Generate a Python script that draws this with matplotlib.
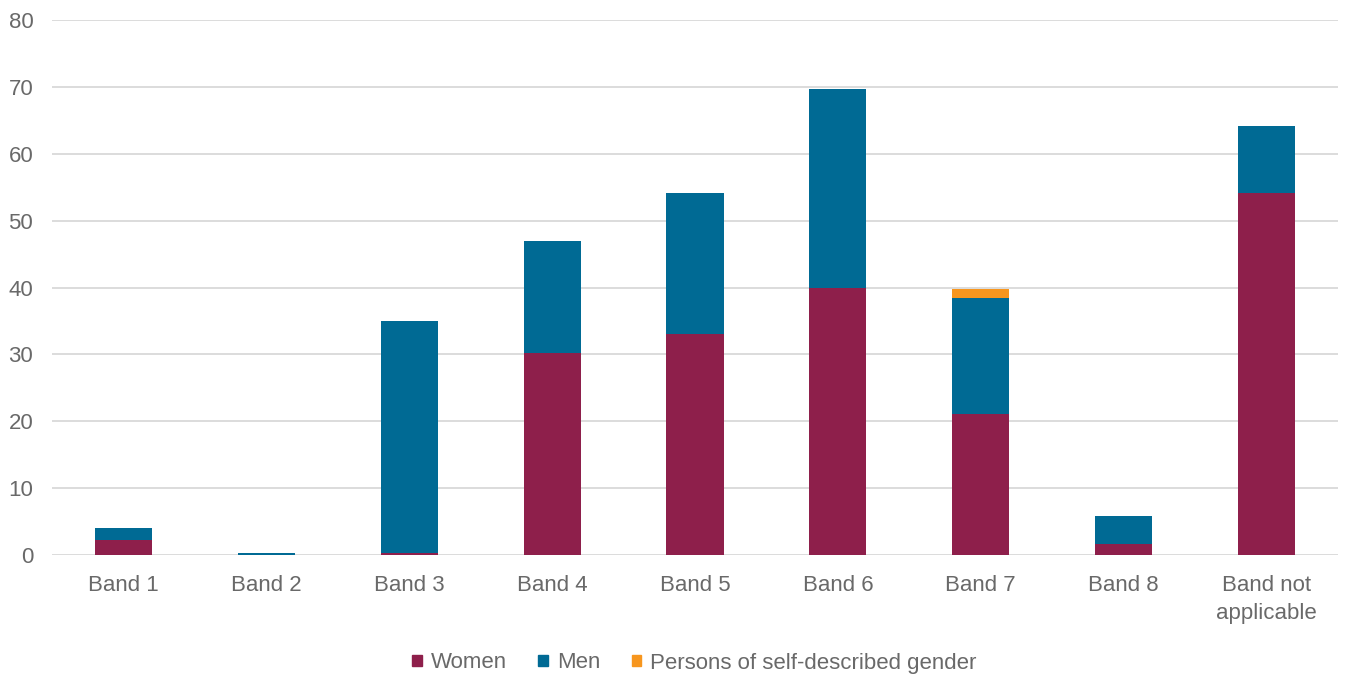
import numpy as np
from matplotlib import pyplot as plt
from matplotlib.patches import Patch

plt.rcParams['font.family'] = ['Liberation Sans', 'DejaVu Sans']

bands = ['Band 1', 'Band 2', 'Band 3', 'Band 4', 'Band 5', 'Band 6',
         'Band 7', 'Band 8', 'Band not\napplicable']
women = [2.3, 0.0, 0.3, 30.2, 33.1, 40.0, 21.1, 1.7, 54.1]
men = [1.7, 0.3, 34.7, 16.8, 21.0, 29.7, 17.3, 4.1, 10.0]
self_described = [0, 0, 0, 0, 0, 0, 1.4, 0, 0]

colors = {'Women': '#8E1F4B', 'Men': '#006A94',
          'Persons of self-described gender': '#F7961E'}
text_color = '#696969'

fig = plt.figure(figsize=(13.46, 6.78), dpi=100)
ax = fig.add_axes([52 / 1346, 1 - 555 / 678, 1286 / 1346, 535 / 678])

x = np.arange(len(bands))
w = 0.4
ax.bar(x, women, w, color=colors['Women'], zorder=3)
ax.bar(x, men, w, bottom=women, color=colors['Men'], zorder=3)
bottom2 = np.array(women) + np.array(men)
ax.bar(x, self_described, w, bottom=bottom2,
       color=colors['Persons of self-described gender'], zorder=3)

ax.set_xlim(-0.5, len(bands) - 0.5)
ax.set_ylim(0, 80)
ax.set_yticks(range(0, 81, 10))
ax.set_xticks(x)
ax.set_xticklabels(bands, linespacing=1.4)
ax.yaxis.grid(True, color='#D9D9D9', linewidth=1.3, zorder=0)
for s in ax.spines.values():
    s.set_visible(False)
ax.tick_params(axis='both', length=0, colors=text_color, labelsize=16)
ax.tick_params(axis='y', pad=13.5)
ax.tick_params(axis='x', pad=14.5)

handles = [Patch(color=c, label=k) for k, c in colors.items()]
fig.legend(handles=handles, loc='center', bbox_to_anchor=(0.516, 1 - 663 / 678),
           ncol=3, frameon=False, fontsize=16, labelcolor=text_color,
           handlelength=0.42, handleheight=0.42, handletextpad=0.42,
           columnspacing=1.4)

fig.savefig('out.png', dpi=100)
